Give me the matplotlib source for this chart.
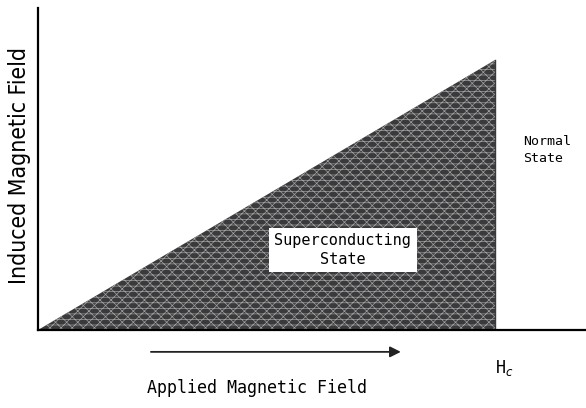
import matplotlib.pyplot as plt

# phase boundary: induced field rises linearly with applied field up to Hc
applied = [0.0, 1.0]
induced = [0.0, 1.0]
hc = 1.0

plt.rcParams['hatch.linewidth'] = 0.5
plt.rcParams['hatch.color'] = '#a0a0a0'

fig = plt.figure(figsize=(5.86, 4.08), dpi=100)
fig.patch.set_facecolor('white')
ax = fig.add_axes([38 / 586, 78 / 408, 548 / 586, 322 / 408])

ax.fill_between(applied, 0, induced, facecolor='#3a3a3c', edgecolor='#a0a0a0',
                hatch='xxx---', linewidth=0)
ax.plot([hc, hc], [0, induced[-1]], color='#3a3a3c', lw=1)

ax.set_xlim(0, 548 / 457)
ax.set_ylim(0, 322 / 270)
ax.set_xticks([])
ax.set_yticks([])
for s in ['top', 'right']:
    ax.spines[s].set_visible(False)
ax.spines['left'].set_linewidth(1.6)
ax.spines['bottom'].set_linewidth(1.6)
ax.set_facecolor('none')

ax.text(0.667, 0.296, 'Superconducting\nState', ha='center', va='center',
        fontsize=11, family='DejaVu Sans Mono', linespacing=1.3,
        bbox=dict(boxstyle='square,pad=0.35', fc='white', ec='none'))
ax.text(1.061, 0.667, 'Normal\nState', ha='left', va='center',
        fontsize=9.5, family='DejaVu Sans Mono', linespacing=1.4)

ax.annotate('', xy=(0.8, -0.081), xytext=(0.241, -0.081),
            xycoords='data', annotation_clip=False,
            arrowprops=dict(arrowstyle='-|>', color='#222222', lw=1.3,
                            mutation_scale=16))
ax.text(1.0, -0.14, r'H$_c$', ha='left', va='center', fontsize=12,
        family='DejaVu Sans Mono', clip_on=False)
ax.text(0.479, -0.215, 'Applied Magnetic Field', ha='center', va='center',
        fontsize=12, family='DejaVu Sans Mono', clip_on=False)
fig.text(20 / 586, (408 - 165) / 408, 'Induced Magnetic Field', rotation=90,
         ha='center', va='center', fontsize=16.5, fontstretch='condensed')

fig.savefig('out.png', dpi=100)
